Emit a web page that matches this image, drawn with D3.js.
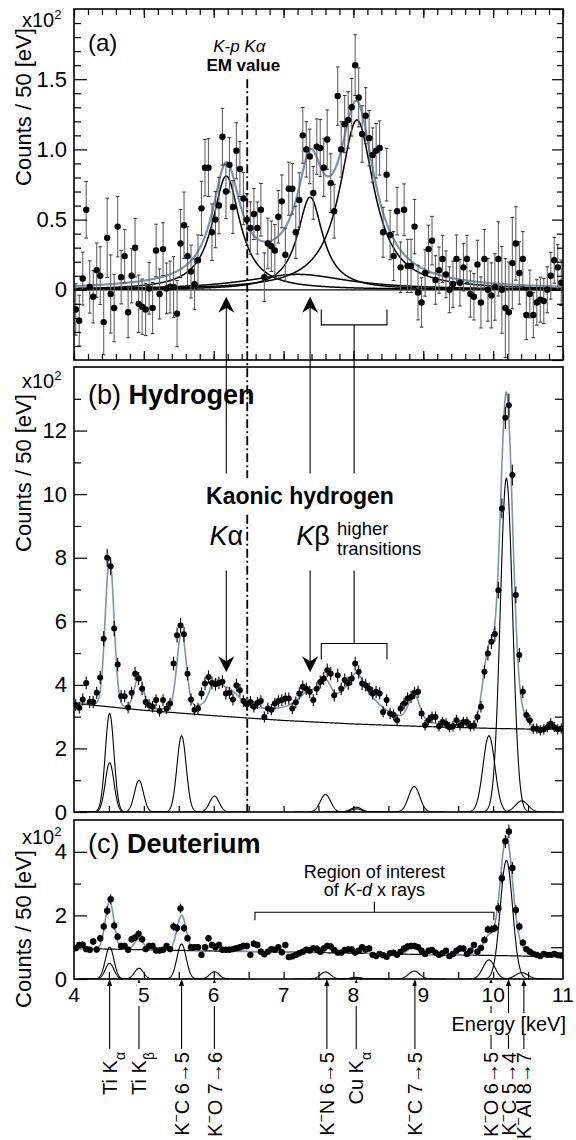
<!DOCTYPE html>
<html>
<head>
<meta charset="utf-8">
<script src="https://cdn.jsdelivr.net/npm/d3@7"></script>
<style>
  body { margin: 0; background: #fff; }
  text { font-family: "Liberation Sans", Arial, Helvetica, sans-serif; fill: #000; }
</style>
</head>
<body>
<svg id="chart" width="576" height="1140"></svg>
<script>
// 50 eV bins, 4 - 11 keV (values in units of 10^2 counts)
const binStart = 4.025, binWidth = 0.05;

// (a) residual spectrum after background subtraction
const residualA = [
  -0.14,-0.22,0.08,0.57,0.02,-0.05,0.14,0.10,-0.23,0.37,
  -0.03,-0.13,0.45,0.09,0.24,-0.16,0.10,0.30,-0.10,-0.12,
  -0.14,0.01,-0.13,0.28,-0.03,0.29,0.01,0.02,0.02,-0.17,
  0.33,0.46,0.24,0.13,0.04,0.21,0.58,0.87,0.87,0.41,
  0.50,0.60,1.09,0.70,0.89,0.59,0.99,0.86,0.65,0.50,
  0.44,0.54,0.44,0.57,0.09,0.33,0.31,0.28,0.52,0.63,
  0.25,0.72,0.72,0.41,0.64,1.10,1.00,0.95,0.69,1.02,
  1.01,0.87,1.07,0.76,0.56,1.38,1.00,1.18,1.21,1.30,
  1.60,1.37,1.11,1.24,1.08,0.96,0.99,1.01,0.41,0.82,
  0.39,0.24,0.56,0.16,0.57,0.17,0.17,0.45,-0.02,-0.09,
  0.12,0.29,0.35,0.07,0.14,0.22,0.11,0.00,0.04,0.22,
  0.05,0.16,0.22,-0.03,-0.05,0.18,-0.09,0.22,0.00,-0.04,
  0.02,0.22,0.00,-0.13,-0.16,0.19,0.33,0.12,0.22,-0.18,
  -0.03,-0.18,-0.09,-0.07,-0.08,0.00,0.10,0.21,0.16,0.05
];

// (b) hydrogen spectrum
const countsB = [
  3.36,3.28,3.54,4.06,3.46,3.46,3.75,4.23,5.45,8.00,
  7.73,5.77,4.64,3.64,3.64,3.29,3.75,4.35,4.20,3.88,
  3.46,3.36,3.31,3.52,3.18,3.52,3.26,3.41,4.67,5.56,
  5.87,5.59,4.35,3.54,3.22,3.26,3.73,4.04,4.25,4.06,
  4.02,4.06,4.10,3.73,3.75,3.54,3.99,3.83,3.49,3.39,
  3.46,3.31,3.43,3.49,2.99,3.26,3.22,3.41,3.49,3.52,
  3.57,3.57,3.26,3.45,3.73,3.94,3.88,3.78,3.52,3.88,
  4.09,4.20,4.46,4.35,3.67,4.30,3.88,4.15,4.05,4.20,
  4.67,4.41,4.04,3.99,3.88,3.73,3.78,3.73,3.15,3.52,
  3.10,3.05,2.89,3.26,3.41,3.57,3.62,3.75,3.78,3.10,
  2.73,2.89,2.99,2.99,2.70,2.83,2.78,2.67,2.70,2.89,
  2.73,2.83,2.83,2.70,2.73,2.99,3.31,4.41,4.99,5.36,
  5.60,6.98,9.55,12.4,12.8,10.6,6.83,4.94,3.78,3.05,
  2.89,2.62,2.62,2.57,2.60,2.67,2.78,2.67,2.60,2.62
];

// (c) deuterium spectrum
const countsC = [
  0.97,1.07,1.08,0.94,0.92,1.18,0.93,1.28,1.65,2.15,
  2.51,1.68,1.33,1.04,1.04,0.92,1.25,1.31,1.42,1.25,
  0.94,1.04,1.04,0.90,0.90,0.92,1.04,0.94,1.65,1.60,
  2.22,1.60,1.28,1.00,1.00,1.00,0.76,1.00,1.28,1.07,
  1.00,1.07,0.92,0.92,0.92,0.94,0.97,1.00,1.04,1.04,
  0.76,1.11,1.07,0.86,0.78,0.86,0.94,0.92,1.00,0.84,
  1.07,0.69,0.71,0.76,0.81,0.86,0.92,0.90,0.97,0.95,
  0.86,0.96,1.04,1.02,0.91,0.83,0.83,0.91,0.93,0.93,
  0.83,0.89,1.00,0.93,0.96,0.76,0.72,0.79,0.75,0.70,
  0.81,0.83,0.76,0.86,0.96,1.02,1.04,1.04,1.00,0.89,
  0.79,0.89,0.91,0.83,0.76,0.81,0.89,0.72,0.79,0.89,
  0.96,0.96,0.79,0.89,1.07,0.86,0.98,1.23,1.56,1.56,
  1.60,2.23,3.17,4.33,4.64,3.49,2.17,1.65,1.14,0.94,
  0.86,0.79,0.76,0.72,0.79,0.76,0.76,0.79,0.75,0.74
];

// background x-ray lines (gaussian fit components)
const lineEnergy = [4.51, 4.51, 4.93, 5.54, 6.01, 7.60, 8.04, 8.04, 8.87, 9.94, 10.19, 10.41];
const lineSigma  = [0.062, 0.062, 0.064, 0.066, 0.068, 0.074, 0.076, 0.076, 0.080, 0.085, 0.088, 0.090];
const heightB    = [3.10, 1.55, 1.00, 2.40, 0.50, 0.55, 0.15, 0.10, 0.80, 2.40, 10.5, 0.35];
const heightC    = [1.00, 0.49, 0.34, 1.10, 0.23, 0.22, 0.05, 0.03, 0.25, 0.60, 3.73, 0.20];

// continuum
const bgEnergy = [4, 5, 6, 7, 8, 9, 10, 11];
const bgLevelB = [3.42, 3.20, 3.03, 2.88, 2.77, 2.69, 2.63, 2.59];
const bgLevelC = [0.96, 0.92, 0.88, 0.85, 0.81, 0.77, 0.74, 0.70];

// kaonic hydrogen components
const kpEnergy = [6.18, 7.38, 8.05, 7.20];
const kpHeight = [0.81, 0.66, 1.21, 0.11];
const kpWidth  = [0.24, 0.22, 0.30, 0.90];

const emValue = 6.48;
const higherRange = [7.54, 8.01, 8.48];
const roiRange = [6.59, 8.30, 10.01];

const markerEnergy = [4.51, 4.93, 5.54, 6.01, 7.62, 8.04, 8.88, 9.97, 10.22, 10.44];
const markerLabel = ["Ti K_α", "Ti K_β", "K^−C 6→5", "K^−O 7→6", "K^−N 6→5",
                     "Cu K_α", "K^−C 7→5", "K^−O 6→5", "K^−C 5→4", "K^−Al 8→7"];
const xTickValues = [4, 5, 6, 7, 8, 9, 10, 11];

const svg = d3.select("#chart");
const x = d3.scaleLinear().domain([4, 11]).range([74, 563]);
const yA = d3.scaleLinear().domain([-0.5, 2.0]).range([360, 9]);
const yB = d3.scaleLinear().domain([0, 14]).range([812, 367]);
const yC = d3.scaleLinear().domain([0, 5]).range([979, 820]);
const FIT = "#7b96a5";

const bins = d3.range(countsB.length).map(i => binStart + i * binWidth);
const grid = d3.range(4, 11.0001, 0.005);
const lorentz = (E, e0, h, w) => h / (1 + ((E - e0) / w) ** 2);
const gauss = (E, e0, h, s) => h * Math.exp(-0.5 * ((E - e0) / s) ** 2);
const kpTotal = E => d3.sum(kpEnergy, (e, i) => lorentz(E, e, kpHeight[i], kpWidth[i]));
const peakSum = (E, hs) => d3.sum(lineEnergy, (e, i) => gauss(E, e, hs[i], lineSigma[i]));
const bgB = d3.scaleLinear().domain(bgEnergy).range(bgLevelB);
const bgC = d3.scaleLinear().domain(bgEnergy).range(bgLevelC);

function clipped(y, id) {
  svg.append("clipPath").attr("id", id).append("rect")
    .attr("x", x(4)).attr("y", y.range()[1])
    .attr("width", x(11) - x(4)).attr("height", y.range()[0] - y.range()[1]);
  return svg.append("g").attr("clip-path", `url(#${id})`);
}

function curve(g, y, f, xs, color, width) {
  g.append("path")
    .datum(xs)
    .attr("fill", "none")
    .attr("stroke", color)
    .attr("stroke-width", width)
    .attr("stroke-linejoin", "round")
    .attr("d", d3.line().x(d => x(d)).y(d => y(f(d))));
}

function points(g, y, vals, err, r, barColor) {
  const pts = g.append("g");
  vals.forEach((v, i) => {
    const e = err(i);
    pts.append("line")
      .attr("x1", x(bins[i])).attr("x2", x(bins[i]))
      .attr("y1", y(v - e)).attr("y2", y(v + e))
      .attr("stroke", barColor).attr("stroke-width", 1.1);
  });
  pts.selectAll("circle").data(vals).join("circle")
    .attr("cx", (d, i) => x(bins[i])).attr("cy", d => y(d)).attr("r", r).attr("fill", "#000");
  return pts;
}

function tickSet(axis, pos, vals, len, fmt) {
  const g = svg.append("g").attr("transform", pos)
    .call(axis.tickValues(vals).tickSize(-len).tickFormat(fmt || ""));
  g.select(".domain").remove();
  g.selectAll("line").attr("stroke", "#000").attr("stroke-width", 1.2);
  g.attr("font-family", null).attr("font-size", 22);
  return g;
}

function frame(y) {
  svg.append("rect")
    .attr("x", x(4)).attr("y", y.range()[1])
    .attr("width", x(11) - x(4)).attr("height", y.range()[0] - y.range()[1])
    .attr("fill", "none").attr("stroke", "#000").attr("stroke-width", 1.6);
}

function yTitle(cy) {
  svg.append("text").attr("transform", `translate(31,${cy}) rotate(-90)`)
    .attr("text-anchor", "middle").attr("font-size", 22).text("Counts / 50 [eV]");
}

function times100(yb) {
  const t = svg.append("text").attr("x", 22).attr("y", yb).attr("font-size", 20).text("x10");
  t.append("tspan").attr("dy", -8).attr("font-size", 13).text("2");
}

const pLeft = `translate(${x(4)},0)`, pRight = `translate(${x(11)},0)`;

// ---------- panel (a)
const gA = clipped(yA, "clipA");
kpEnergy.forEach((e, i) => curve(gA, yA, E => lorentz(E, e, kpHeight[i], kpWidth[i]), grid, "#000", 1.5));
curve(gA, yA, kpTotal, grid, FIT, 2.2);
gA.append("line").attr("x1", x(4)).attr("x2", x(11)).attr("y1", yA(0)).attr("y2", yA(0))
  .attr("stroke", "#000").attr("stroke-width", 1.3);
const pa = points(gA, yA, residualA, i => Math.sqrt(countsB[i]) / 10, 3.2, "#666");
residualA.forEach((v, i) => {
  const e = Math.sqrt(countsB[i]) / 10;
  [v - e, v + e].forEach(w => pa.insert("line", "circle")
    .attr("x1", x(bins[i]) - 1.8).attr("x2", x(bins[i]) + 1.8)
    .attr("y1", yA(w)).attr("y2", yA(w)).attr("stroke", "#333").attr("stroke-width", 1));
});

const aMinor = d3.range(-5, 21).map(v => v / 10).filter(v => Math.round(v * 10) % 5 !== 0);
const aMajor = [0, 0.5, 1.0, 1.5];
tickSet(d3.axisLeft(yA), pLeft, aMinor, 7);
tickSet(d3.axisLeft(yA), pLeft, aMajor, 13, d => d === 0 ? "0" : d3.format(".1f")(d)).call(g => g.selectAll("text").attr("x", -7));
tickSet(d3.axisRight(yA), pRight, aMinor, 6);
tickSet(d3.axisRight(yA), pRight, [-0.5, 0, 0.5, 1.0, 1.5, 2.0], 11);
const xFine = d3.range(20, 56).map(v => v / 5);
tickSet(d3.axisTop(x), `translate(0,${yA(2)})`, xFine, 6);
tickSet(d3.axisTop(x), `translate(0,${yA(2)})`, xTickValues, 9);
tickSet(d3.axisBottom(x), `translate(0,${yA(-0.5)})`, xFine, 6);
tickSet(d3.axisBottom(x), `translate(0,${yA(-0.5)})`, xTickValues, 9);
frame(yA);

// ---------- panel (b)
const gB = clipped(yB, "clipB");
curve(gB, yB, bgB, grid, "#000", 1.2);
lineEnergy.forEach((e, i) => {
  const xs = grid.filter(E => Math.abs(E - e) < 0.45);
  curve(gB, yB, E => gauss(E, e, heightB[i], lineSigma[i]), xs, "#000", 1.1);
});
curve(gB, yB, E => bgB(E) + peakSum(E, heightB) + kpTotal(E), grid, FIT, 1.6);
points(gB, yB, countsB, i => Math.sqrt(countsB[i]) / 10, 3.0, "#000");

tickSet(d3.axisLeft(yB), pLeft, [1, 3, 5, 7, 9, 11, 13], 7);
tickSet(d3.axisLeft(yB), pLeft, [0, 2, 4, 6, 8, 10, 12], 13, d3.format("d")).call(g => g.selectAll("text").attr("x", -7));
tickSet(d3.axisRight(yB), pRight, d3.range(1, 14), 8);
tickSet(d3.axisBottom(x), `translate(0,${yB(0)})`, d3.range(9, 22).map(v => v / 2), 6);
frame(yB);

// ---------- panel (c)
const gC = clipped(yC, "clipC");
curve(gC, yC, bgC, grid, "#000", 1.2);
lineEnergy.forEach((e, i) => {
  const xs = grid.filter(E => Math.abs(E - e) < 0.45);
  curve(gC, yC, E => gauss(E, e, heightC[i], lineSigma[i]), xs, "#000", 1.1);
});
curve(gC, yC, E => bgC(E) + peakSum(E, heightC), grid, FIT, 1.6);
points(gC, yC, countsC, i => Math.sqrt(countsC[i]) / 10, 3.2, "#000");

tickSet(d3.axisLeft(yC), pLeft, [1, 3], 7);
tickSet(d3.axisLeft(yC), pLeft, [0, 2, 4], 13, d3.format("d")).call(g => g.selectAll("text").attr("x", -7));
tickSet(d3.axisRight(yC), pRight, [1, 2, 3, 4], 12);
frame(yC);

// ---------- marker arrows below (c)
const marks = svg.append("g");
markerEnergy.forEach((e, i) => {
  const cx = x(e);
  marks.append("line").attr("x1", cx).attr("x2", cx).attr("y1", 1049).attr("y2", yC(0) + 5)
    .attr("stroke", "#000").attr("stroke-width", 1.1);
  marks.append("path").attr("d", `M${cx},${yC(0)} L${cx + 2.6},${yC(0) + 7} L${cx - 2.6},${yC(0) + 7} Z`)
    .attr("fill", "#000");
  const t = marks.append("text").attr("transform", `translate(${cx},1052) rotate(-90)`)
    .attr("text-anchor", "end").attr("dy", "0.36em").attr("font-size", 20);
  markerLabel[i].split(/([_^].)/).filter(Boolean).forEach(part => {
    if (part[0] === "_" || part[0] === "^") {
      t.append("tspan").attr("baseline-shift", part[0] === "_" ? "sub" : "super")
        .attr("font-size", 14).text(part.slice(1));
    } else {
      t.append("tspan").text(part);
    }
  });
});

// x tick labels with white backing (arrows pass behind)
tickSet(d3.axisBottom(x), `translate(0,${yC(0)})`, d3.range(9, 22).map(v => v / 2), 7);
const xLab = svg.append("g").attr("font-size", 21);
xTickValues.forEach(v => {
  const t = xLab.append("text").attr("x", x(v)).attr("y", 1002).attr("text-anchor", "middle").text(v);
  const b = t.node().getBBox();
  xLab.insert("rect", "text").attr("x", b.x - 1).attr("y", b.y).attr("width", b.width + 2).attr("height", b.height).attr("fill", "#fff");
});
const en = svg.append("text").attr("x", 566).attr("y", 1031).attr("text-anchor", "end")
  .attr("font-size", 20).text("Energy [keV]");
const eb = en.node().getBBox();
svg.insert("rect", () => en.node()).attr("x", eb.x - 2).attr("y", eb.y).attr("width", eb.width + 4)
  .attr("height", eb.height).attr("fill", "#fff");

// ---------- axis titles and panel labels
yTitle(107); yTitle(473); yTitle(929);
times100(27); times100(388); times100(844);

svg.append("text").attr("x", 88).attr("y", 51).attr("font-size", 24).text("(a)");
const tb = svg.append("text").attr("x", 88).attr("y", 404).attr("font-size", 27);
tb.append("tspan").text("(b) ");
tb.append("tspan").attr("font-weight", "bold").text("Hydrogen");
const tc = svg.append("text").attr("x", 88).attr("y", 853).attr("font-size", 27);
tc.append("tspan").text("(c) ");
tc.append("tspan").attr("font-weight", "bold").text("Deuterium");

// ---------- EM value, kaonic hydrogen annotations
const ann = svg.append("g");
const xem = x(emValue);
ann.append("line").attr("x1", xem).attr("x2", xem).attr("y1", yA(1.5)).attr("y2", yB(10.5))
  .attr("stroke", "#000").attr("stroke-width", 1.8).attr("stroke-dasharray", "9,3,2,3");
ann.append("line").attr("x1", xem).attr("x2", xem).attr("y1", yB(9.35)).attr("y2", yB(0))
  .attr("stroke", "#000").attr("stroke-width", 1.8).attr("stroke-dasharray", "9,3,2,3");
ann.append("text").attr("x", xem - 8).attr("y", 52).attr("text-anchor", "middle")
  .attr("font-size", 17).attr("font-style", "italic").text("K-p Kα");
ann.append("text").attr("x", xem - 4).attr("y", 71).attr("text-anchor", "middle")
  .attr("font-size", 17).attr("font-weight", "bold").text("EM value");

const stealth = (cx, tip, dir) =>
  `M${cx},${tip} L${cx + 8},${tip + dir * 16} L${cx},${tip + dir * 11} L${cx - 8},${tip + dir * 16} Z`;
const vline = (cx, y1, y2) => ann.append("line").attr("x1", cx).attr("x2", cx).attr("y1", y1).attr("y2", y2)
  .attr("stroke", "#000").attr("stroke-width", 1.1);

[kpEnergy[0], kpEnergy[1]].forEach(e => {
  const cx = x(e);
  vline(cx, yA(-0.05) + 8, yB(10.65));
  ann.append("path").attr("d", stealth(cx, yA(-0.05), 1)).attr("fill", "#000");
  vline(cx, yB(7.6), yB(4.4) - 8);
  ann.append("path").attr("d", stealth(cx, yB(4.4), -1)).attr("fill", "#000");
});
const [h0, hm, h1] = higherRange.map(x);
vline(hm, yA(-0.25), yB(10.65));
ann.append("path").attr("d", `M${h0},${yA(-0.14)} V${yA(-0.25)} H${h1} V${yA(-0.14)}`)
  .attr("fill", "none").attr("stroke", "#000").attr("stroke-width", 1.1);
vline(hm, yB(7.6), yB(5.3));
ann.append("path").attr("d", `M${h0},${yB(4.8)} V${yB(5.3)} H${h1} V${yB(4.8)}`)
  .attr("fill", "none").attr("stroke", "#000").attr("stroke-width", 1.1);

ann.append("text").attr("x", 300).attr("y", 504).attr("text-anchor", "middle")
  .attr("font-size", 23).attr("font-weight", "bold").text("Kaonic hydrogen");
const ka = ann.append("text").attr("x", x(kpEnergy[0])).attr("y", 545).attr("text-anchor", "middle").attr("font-size", 27);
ka.append("tspan").attr("font-style", "italic").text("K");
ka.append("tspan").text("α");
const kb = ann.append("text").attr("x", x(kpEnergy[1]) + 3).attr("y", 545).attr("text-anchor", "middle").attr("font-size", 27);
kb.append("tspan").attr("font-style", "italic").text("K");
kb.append("tspan").text("β");
ann.append("text").attr("x", 337).attr("y", 535).attr("font-size", 18.5).text("higher");
ann.append("text").attr("x", 337).attr("y", 555).attr("font-size", 18.5).text("transitions");

// ---------- region of interest (c)
const [r0, rm, r1] = roiRange.map(x);
ann.append("path").attr("d", `M${r0},${yC(1.85)} V${yC(2.1)} H${r1} V${yC(1.85)} M${rm},${yC(2.1)} V${yC(2.43)}`)
  .attr("fill", "none").attr("stroke", "#000").attr("stroke-width", 1.1);
ann.append("text").attr("x", rm).attr("y", 878).attr("text-anchor", "middle").attr("font-size", 18).text("Region of interest");
const roi = ann.append("text").attr("x", rm).attr("y", 896).attr("text-anchor", "middle").attr("font-size", 18);
roi.append("tspan").text("of ");
roi.append("tspan").attr("font-style", "italic").text("K-d");
roi.append("tspan").text(" x rays");
</script>
</body>
</html>
